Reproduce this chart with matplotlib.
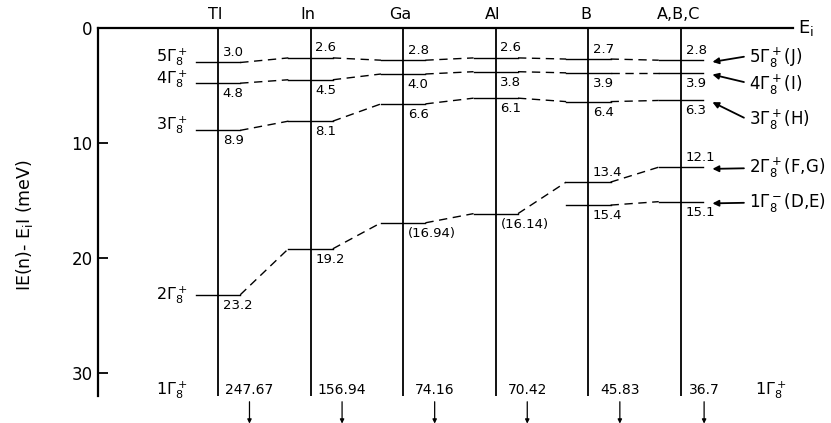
import numpy as np
import matplotlib
matplotlib.use('Agg')
import matplotlib.pyplot as plt

# acceptor columns and level energies |E(n) - Ei| in meV
columns = ['Tl', 'In', 'Ga', 'Al', 'B', 'A,B,C']
level5 = [3.0, 2.6, 2.8, 2.6, 2.7, 2.8]
level4 = [4.8, 4.5, 4.0, 3.8, 3.9, 3.9]
level3 = [8.9, 8.1, 6.6, 6.1, 6.4, 6.3]
level2 = [23.2, 19.2, 16.94, 16.14, 13.4, 12.1]
level2_labels = ['23.2', '19.2', '(16.94)', '(16.14)', '13.4', '12.1']
level1m = [np.nan, np.nan, np.nan, np.nan, 15.4, 15.1]
ground = ['247.67', '156.94', '74.16', '70.42', '45.83', '36.7']

left_names = [r'5$\Gamma_8^+$', r'4$\Gamma_8^+$', r'3$\Gamma_8^+$', r'2$\Gamma_8^+$']
right_names = [r'5$\Gamma_8^+$(J)', r'4$\Gamma_8^+$(I)', r'3$\Gamma_8^+$(H)',
               r'2$\Gamma_8^+$(F,G)', r'1$\Gamma_8^-$(D,E)']

plt.rcParams['font.family'] = 'DejaVu Sans'
plt.rcParams['mathtext.fontset'] = 'dejavusans'

fig = plt.figure(figsize=(8.31, 4.23), dpi=100)
ax = fig.add_axes([98 / 831, 1 - 396 / 423, 695 / 831, 368 / 423])
ax.set_xlim(-0.296, 7.21)
ax.set_ylim(32, 0)
for s in ['right', 'bottom']:
    ax.spines[s].set_visible(False)
for s in ['left', 'top']:
    ax.spines[s].set_linewidth(1.6)
ax.set_xticks([])
ax.set_yticks([0, 10, 20, 30])
ax.tick_params(axis='y', direction='in', length=7, width=1.3, labelsize=12, pad=4)

xs = np.arange(1, len(columns) + 1)
hw = 0.24
ax.vlines(xs, 0, 32, color='black', lw=1.3)

for x, name in zip(xs, columns):
    ax.text(x - 0.03, -1.15, name, ha='center', va='center', fontsize=11.5)
ax.text(7.26, 0.0, r'E$_\mathregular{i}$', ha='left', va='center', fontsize=13, clip_on=False)


def draw_series(vals, labels, above):
    vals = np.asarray(vals, dtype=float)
    prev = None
    for i, (x, v) in enumerate(zip(xs, vals)):
        if np.isnan(v):
            continue
        ax.plot([x - hw, x + hw], [v, v], color='black', lw=1.0)
        if above[i]:
            ax.text(x + 0.05, v - 0.3, labels[i], ha='left', va='bottom', fontsize=9.5)
        else:
            ax.text(x + 0.05, v + 0.35, labels[i], ha='left', va='top', fontsize=9.5)
        if prev is not None:
            ax.plot([prev[0] + hw, x - hw], [prev[1], v], color='black', lw=1.0,
                    linestyle=(0, (6, 4)))
        prev = (x, v)


draw_series(level5, [f'{v:.1f}' for v in level5], [True] * 6)
draw_series(level4, [f'{v:.1f}' for v in level4], [False] * 6)
draw_series(level3, [f'{v:.1f}' for v in level3], [False] * 6)
draw_series(level2, level2_labels, [False, False, False, False, True, True])
draw_series(level1m, ['', '', '', '', '15.4', '15.1'], [False] * 6)

# state names on the left, next to the Tl levels
for name, v, dy in zip(left_names, [level5[0], level4[0], level3[0], level2[0]],
                       [-0.5, -0.4, -0.5, 0.0]):
    ax.text(0.67, v + dy, name, ha='right', va='center', fontsize=11.5)

# state names on the right with arrows to the A,B,C levels
ends = [level5[-1], level4[-1], level3[-1], level2[-1], level1m[-1]]
text_y = [2.6, 4.95, 8.0, 12.2, 15.2]
tail_y = [2.5, 4.7, 7.8, 12.2, 15.2]
for name, e, ty, tl in zip(right_names, ends, text_y, tail_y):
    ax.annotate('', xy=(6.34, e + 0.15), xytext=(6.68, tl),
                arrowprops=dict(arrowstyle='-|>', lw=1.3, color='black',
                                mutation_scale=9, shrinkA=0, shrinkB=0),
                annotation_clip=False)
    ax.text(6.74, ty, name, ha='left', va='center', fontsize=12, clip_on=False)

# ground state 1Γ8+ energies with arrows pointing down
ax.text(0.67, 31.5, r'1$\Gamma_8^+$', ha='right', va='center', fontsize=11.5)
ax.text(6.8, 31.5, r'1$\Gamma_8^+$', ha='left', va='center', fontsize=11.5)
for x, g in zip(xs, ground):
    off = 0.25 if g == '36.7' else 0.34
    ax.text(x + off, 31.5, g, ha='center', va='center', fontsize=10)
    ax.annotate('', xy=(x + off, 34.4), xytext=(x + off, 32.5),
                arrowprops=dict(arrowstyle='-|>', lw=0.9, color='black',
                                mutation_scale=6, shrinkA=0, shrinkB=0),
                annotation_clip=False)

fig.text(0.030, 0.468, r'IE(n)- E$_\mathregular{i}$I (meV)', rotation=90,
         ha='center', va='center', fontsize=12.5)

fig.savefig('out.png', dpi=100)
